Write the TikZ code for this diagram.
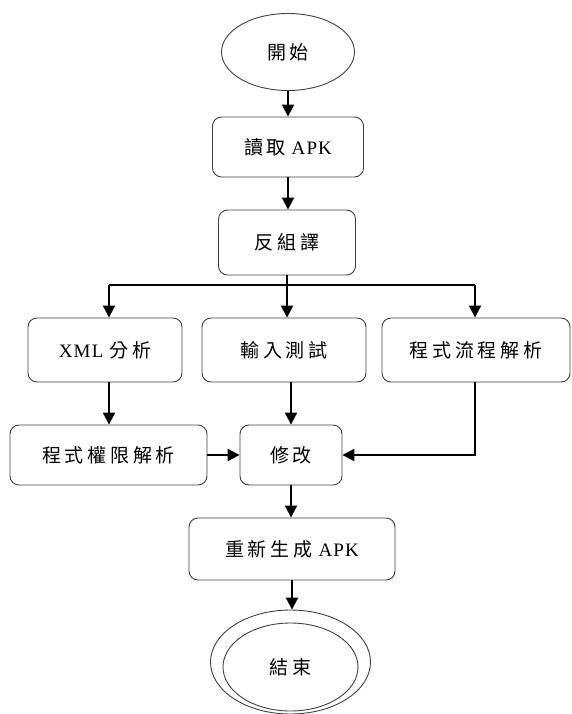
\documentclass[tikz,border=0pt]{standalone}
\usepackage{fontspec}
\setmainfont{Liberation Serif}[LetterSpace=6]
\newfontfamily\cjk{Noto Sans CJK TC}[LetterSpace=20]
\usetikzlibrary{shapes.geometric,arrows.meta}
\begin{document}
\begin{tikzpicture}[x=1pt,y=-1pt,
  box/.style={draw=black!75,line width=0.9pt,rounded corners=9pt,inner sep=0pt,font=\fontsize{19}{22}\selectfont},
  oval/.style={draw=black!75,line width=0.9pt,ellipse,inner sep=0pt,font=\fontsize{19}{22}\selectfont},
  conn/.style={line width=2pt,-{Triangle[length=12pt,width=12pt]}},
  plain/.style={line width=2pt}]
\useasboundingbox (0,0) rectangle (571,714);
\node[oval,minimum width=133pt,minimum height=77pt] (start) at (288,52) {\cjk 開始};
\node[box,minimum width=151pt,minimum height=60pt] (read) at (288,147) {{\cjk 讀取} APK};
\node[box,minimum width=137pt,minimum height=65pt] (decomp) at (287,242.5) {\cjk 反組譯};
\node[box,minimum width=154pt,minimum height=64pt] (xml) at (105,350) {XML {\cjk 分析}};
\node[box,minimum width=164pt,minimum height=64pt] (input) at (284,350) {\cjk 輸入測試};
\node[box,minimum width=188pt,minimum height=64pt] (flow) at (476,350) {\cjk 程式流程解析};
\node[box,minimum width=197pt,minimum height=60pt] (perm) at (108.5,455) {\cjk 程式權限解析};
\node[box,minimum width=102pt,minimum height=60pt] (modify) at (291,455) {\cjk 修改};
\node[box,minimum width=206pt,minimum height=62pt] (regen) at (292,549) {{\cjk 重新生成} APK};
\node[oval,minimum width=160pt,minimum height=104pt] (endo) at (290.5,662) {};
\node[oval,minimum width=135pt,minimum height=88pt] (end) at (290.5,667) {\cjk 結束};
\coordinate (bl) at (109,285);
\coordinate (br) at (475,285);
\coordinate (bc) at (287,285);
\draw[conn] (start.south -| read.north) -- (read.north);
\draw[conn] (read.south) -- (read.south |- decomp.north);
\draw[conn] (decomp.south -| bc) -- (bc |- input.north);
\draw[plain] (bl) -- (br);
\draw[conn] (bl) -- (bl |- xml.north);
\draw[conn] (br) -- (br |- flow.north);
\draw[conn] (bl |- xml.south) -- (bl |- perm.north);
\draw[conn] (modify.north |- input.south) -- (modify.north);
\draw[conn] (perm.east) -- (modify.west);
\draw[conn] (br |- flow.south) |- (modify.east);
\draw[conn] (modify.south) -- (modify.south |- regen.north);
\draw[conn] (regen.south) -- (regen.south |- endo.north);
\end{tikzpicture}
\end{document}
